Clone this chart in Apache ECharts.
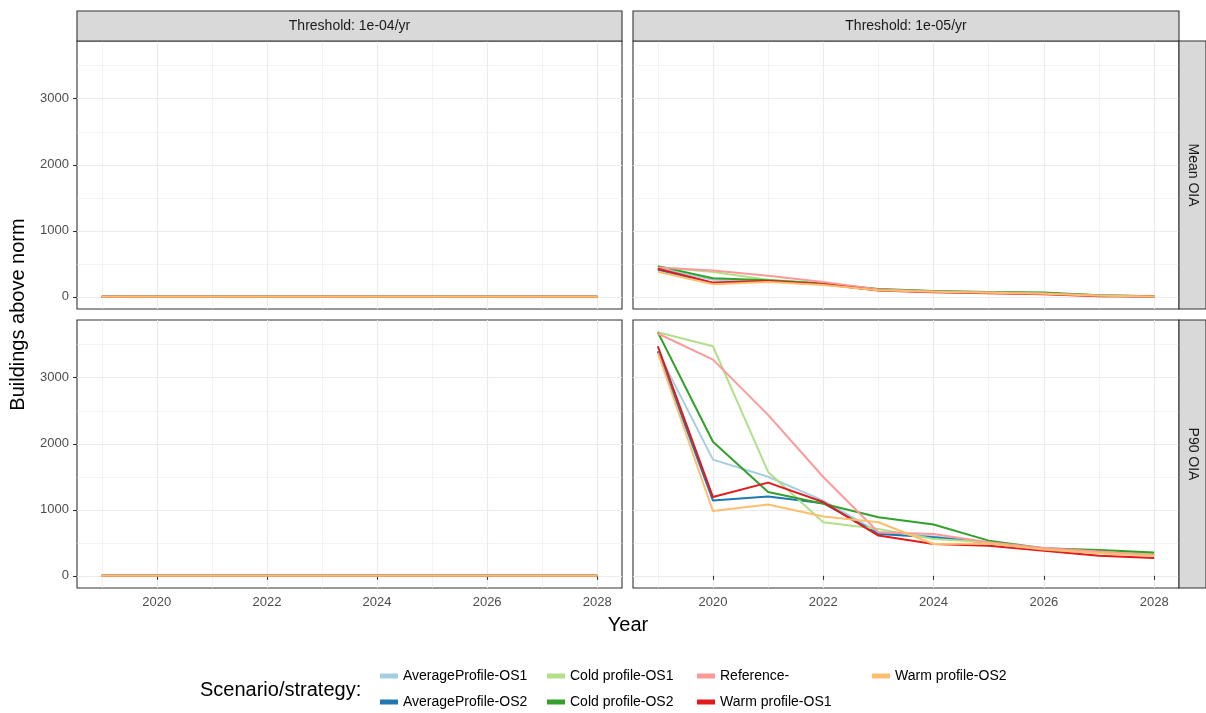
<!DOCTYPE html>
<html><head><meta charset="utf-8">
<script src="https://cdn.jsdelivr.net/npm/echarts@6/dist/echarts.min.js"></script>
<style>html,body{margin:0;padding:0;background:#fff}#c{width:1206px;height:713px}</style>
</head><body><div id="c"></div>
<script>
// ---------- data ----------
const years = [2019, 2020, 2021, 2022, 2023, 2024, 2025, 2026, 2027, 2028];
const seriesNames = ['AverageProfile-OS1', 'AverageProfile-OS2', 'Cold profile-OS1', 'Cold profile-OS2', 'Reference-', 'Warm profile-OS1', 'Warm profile-OS2'];
const seriesColors = ['#A6CEE3', '#1F78B4', '#B2DF8A', '#33A02C', '#FB9A99', '#E31A1C', '#FDBF6F'];
const thresholdLabels = ['Threshold: 1e-04/yr', 'Threshold: 1e-05/yr'];
const metricLabels = ['Mean OIA', 'P90 OIA'];
const xTickLabels = [2020, 2022, 2024, 2026, 2028];
const xMinorTicks = [2019, 2021, 2023, 2025, 2027];
const yTickLabels = [0, 1000, 2000, 3000];
const yMinorTicks = [500, 1500, 2500, 3500];

// Threshold 1e-04/yr : every scenario stays at 0 (both metrics)
const thr04Mean = [0, 0, 0, 0, 0, 0, 0, 0, 0, 0];
const thr04P90 = [0, 0, 0, 0, 0, 0, 0, 0, 0, 0];

// Threshold 1e-05/yr, Mean OIA
const meanAvgOS1 = [430, 260, 240, 200, 110, 80, 65, 50, 20, 5];
const meanAvgOS2 = [410, 205, 235, 190, 100, 75, 60, 45, 15, 5];
const meanColdOS1 = [450, 375, 260, 205, 115, 85, 70, 55, 25, 8];
const meanColdOS2 = [465, 280, 250, 200, 120, 90, 72, 65, 25, 8];
const meanRef = [445, 400, 320, 225, 110, 80, 65, 50, 20, 5];
const meanWarmOS1 = [425, 215, 240, 190, 95, 70, 55, 40, 10, 3];
const meanWarmOS2 = [380, 190, 225, 180, 100, 75, 60, 45, 15, 5];

// Threshold 1e-05/yr, P90 OIA
const p90AvgOS1 = [3400, 1760, 1500, 1140, 660, 594, 508, 406, 355, 330];
const p90AvgOS2 = [3400, 1140, 1200, 1100, 634, 584, 500, 400, 350, 320];
const p90ColdOS1 = [3690, 3477, 1574, 812, 710, 558, 508, 410, 360, 330];
const p90ColdOS2 = [3690, 2030, 1269, 1091, 888, 777, 533, 416, 390, 355];
const p90Ref = [3670, 3274, 2437, 1497, 660, 634, 508, 420, 370, 310];
const p90WarmOS1 = [3477, 1193, 1411, 1117, 609, 482, 457, 380, 305, 270];
const p90WarmOS2 = [3375, 980, 1081, 898, 812, 482, 490, 400, 340, 305];

// panel order: [row][col] -> list of series arrays in seriesNames order
const panelData = [
  [[thr04Mean, thr04Mean, thr04Mean, thr04Mean, thr04Mean, thr04Mean, thr04Mean],
   [meanAvgOS1, meanAvgOS2, meanColdOS1, meanColdOS2, meanRef, meanWarmOS1, meanWarmOS2]],
  [[thr04P90, thr04P90, thr04P90, thr04P90, thr04P90, thr04P90, thr04P90],
   [p90AvgOS1, p90AvgOS2, p90ColdOS1, p90ColdOS2, p90Ref, p90WarmOS1, p90WarmOS2]]
];

// ---------- layout ----------
const FONT = 'Liberation Sans, Arial, sans-serif';
const PX = [77, 633], PW = [545, 546];
const PY = [41, 320], PH = [268, 268];
const STRIP_TOP = 11, STRIP_H = 30, RSTRIP_W = 27;
const X_MIN = 2018.55, X_MAX = 2028.45;
const Y_MIN = -184.5, Y_MAX = 3874.5;
const GRID_COL = '#EBEBEB', BORDER = '#333333';

const grids = [], xAxes = [], yAxes = [], series = [];
let g = 0;
for (let r = 0; r < 2; r++) {
  for (let c = 0; c < 2; c++) {
    grids.push({left: PX[c], top: PY[r], width: PW[c], height: PH[r], show: true,
      backgroundColor: '#fff', borderColor: BORDER, borderWidth: 1.1, containLabel: false});
    const showX = r === 1, showY = c === 0;
    xAxes.push({type: 'value', gridIndex: g, min: X_MIN, max: X_MAX,
      axisLine: {show: false},
      axisTick: {show: showX, customValues: xTickLabels, length: 4, lineStyle: {color: BORDER, width: 1.1}},
      axisLabel: {show: showX, customValues: xTickLabels, margin: 8, color: '#4D4D4D', fontSize: 13, fontFamily: FONT,
        formatter: v => String(v)},
      splitLine: {show: true, lineStyle: {color: GRID_COL, width: 1.1}}});
    xAxes.push({type: 'value', gridIndex: g, min: X_MIN, max: X_MAX,
      axisLine: {show: false},
      axisTick: {show: false, customValues: xMinorTicks},
      axisLabel: {show: false, customValues: xMinorTicks},
      splitLine: {show: true, lineStyle: {color: GRID_COL, width: 0.6}}});
    yAxes.push({type: 'value', gridIndex: g, min: Y_MIN, max: Y_MAX,
      axisLine: {show: false},
      axisTick: {show: showY, customValues: yTickLabels, length: 4, lineStyle: {color: BORDER, width: 1.1}},
      axisLabel: {show: showY, customValues: yTickLabels, margin: 8, color: '#4D4D4D', fontSize: 13, fontFamily: FONT,
        formatter: v => String(v)},
      splitLine: {show: true, lineStyle: {color: GRID_COL, width: 1.1}}});
    yAxes.push({type: 'value', gridIndex: g, min: Y_MIN, max: Y_MAX,
      axisLine: {show: false},
      axisTick: {show: false, customValues: yMinorTicks},
      axisLabel: {show: false, customValues: yMinorTicks},
      splitLine: {show: true, lineStyle: {color: GRID_COL, width: 0.6}}});
    seriesNames.forEach((name, k) => {
      series.push({type: 'line', name, xAxisIndex: 2 * g, yAxisIndex: 2 * g,
        data: years.map((yr, i) => [yr, panelData[r][c][k][i]]),
        showSymbol: false, symbol: 'none', silent: true, z: 3,
        lineStyle: {color: seriesColors[k], width: 2}, itemStyle: {color: seriesColors[k]}});
    });
    g++;
  }
}

const graphics = [];
for (let c = 0; c < 2; c++) {
  graphics.push({type: 'rect', shape: {x: PX[c], y: STRIP_TOP, width: PW[c], height: STRIP_H},
    style: {fill: '#D9D9D9', stroke: BORDER, lineWidth: 1.1}, z: 10});
  graphics.push({type: 'text', x: PX[c] + PW[c] / 2, y: STRIP_TOP + STRIP_H / 2,
    style: {text: thresholdLabels[c], fill: '#1A1A1A', font: '14px ' + FONT, align: 'center', verticalAlign: 'middle'}, z: 11});
}
const RX = PX[1] + PW[1];
for (let r = 0; r < 2; r++) {
  graphics.push({type: 'rect', shape: {x: RX, y: PY[r], width: RSTRIP_W, height: PH[r]},
    style: {fill: '#D9D9D9', stroke: BORDER, lineWidth: 1.1}, z: 10});
  graphics.push({type: 'text', x: RX + RSTRIP_W / 2, y: PY[r] + PH[r] / 2, rotation: -Math.PI / 2,
    style: {text: metricLabels[r], fill: '#1A1A1A', font: '14px ' + FONT, align: 'center', verticalAlign: 'middle'}, z: 11});
}
graphics.push({type: 'text', x: 18, y: (PY[0] + PY[1] + PH[1]) / 2, rotation: Math.PI / 2,
  style: {text: 'Buildings above norm', fill: '#000', font: '20px ' + FONT, align: 'center', verticalAlign: 'middle'}});
graphics.push({type: 'text', x: 628, y: 625,
  style: {text: 'Year', fill: '#000', font: '20px ' + FONT, align: 'center', verticalAlign: 'middle'}});
graphics.push({type: 'text', x: 200, y: 690,
  style: {text: 'Scenario/strategy:', fill: '#000', font: '20px ' + FONT, align: 'left', verticalAlign: 'middle'}});

// legend arranged column-major (2 rows x 4 columns), one legend box per entry
const legendColLefts = [380, 547, 697, 872];
const legendRowTops = [669, 695];
const legends = seriesNames.map((name, k) => ({
  orient: 'horizontal', left: legendColLefts[Math.floor(k / 2)], top: legendRowTops[k % 2],
  itemWidth: 18, itemHeight: 5, icon: 'rect', selectedMode: false, padding: 0,
  textStyle: {fontSize: 14, color: '#000', fontFamily: FONT},
  data: [{name, itemStyle: {color: seriesColors[k]}}]
}));

const chart = echarts.init(document.getElementById('c'), null, {renderer: 'canvas'});
chart.setOption({
  animation: false, backgroundColor: '#fff',
  grid: grids, xAxis: xAxes, yAxis: yAxes, series, legend: legends, graphic: graphics
});
</script></body></html>
